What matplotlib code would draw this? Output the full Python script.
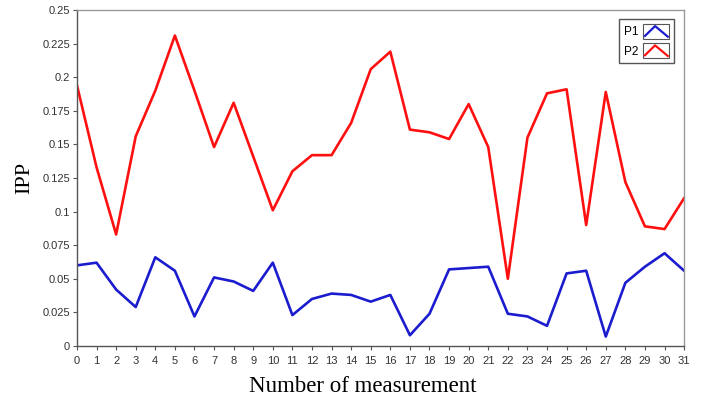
import matplotlib.pyplot as plt
import matplotlib.ticker as ticker
from matplotlib.legend_handler import HandlerBase
from matplotlib.patches import Rectangle
from matplotlib.lines import Line2D
import numpy as np

measurement = list(range(32))
p1 = [0.060, 0.062, 0.042, 0.029, 0.066, 0.056, 0.022, 0.051, 0.048, 0.041,
      0.062, 0.023, 0.035, 0.039, 0.038, 0.033, 0.038, 0.008, 0.024, 0.057,
      0.058, 0.059, 0.024, 0.022, 0.015, 0.054, 0.056, 0.007, 0.047, 0.059,
      0.069, 0.056]
p2 = [0.194, 0.133, 0.083, 0.156, 0.190, 0.231, 0.190, 0.148, 0.181, 0.141,
      0.101, 0.130, 0.142, 0.142, 0.166, 0.206, 0.219, 0.161, 0.159, 0.154,
      0.180, 0.148, 0.050, 0.155, 0.188, 0.191, 0.090, 0.189, 0.122, 0.089,
      0.087, 0.110]
yticks = [0, 0.025, 0.05, 0.075, 0.1, 0.125, 0.15, 0.175, 0.2, 0.225, 0.25]


class ChevronHandler(HandlerBase):
    # small framed box with a ^ shaped line, like the original legend
    def create_artists(self, legend, orig_handle, xdescent, ydescent,
                       width, height, fontsize, trans):
        x0, y0 = -xdescent, -ydescent
        box = Rectangle((x0, y0), width, height, fill=False, ec='#555555',
                        lw=0.8, transform=trans)
        line = Line2D([x0 + 0.06 * width, x0 + 0.45 * width, x0 + 0.94 * width],
                      [y0 + 0.2 * height, y0 + 0.85 * height, y0 + 0.15 * height],
                      color=orig_handle.get_color(), lw=1.6, transform=trans)
        return [box, line]


plt.rcParams['font.family'] = 'Liberation Sans'
fig = plt.figure(figsize=(7.06, 4), dpi=100)
ax = fig.add_axes([0.109, 0.135, 0.860, 0.840])

l1, = ax.plot(measurement, p1, color='#1c1ccf', lw=1.9, label='P1')
l2, = ax.plot(measurement, p2, color='#ff1010', lw=1.9, label='P2')

ax.set_xlim(0, 31)
ax.set_ylim(0, 0.25)
ax.set_xticks(measurement)
ax.set_yticks(yticks)
ax.yaxis.set_major_formatter(ticker.FormatStrFormatter('%g'))
ax.tick_params(labelsize=8, length=3, width=0.8, color='#555555',
               labelcolor='#333333')
ax.tick_params(axis='x', pad=4)
ax.tick_params(axis='y', pad=2)

for s in ['left', 'bottom']:
    ax.spines[s].set_color('#555555')
    ax.spines[s].set_linewidth(1.0)
for s in ['top', 'right']:
    ax.spines[s].set_color('#999999')
    ax.spines[s].set_linewidth(1.0)

ax.set_xlabel('Number of measurement', family='Liberation Serif', fontsize=16.5)
ax.xaxis.set_label_coords(0.47, -0.09)
ax.set_ylabel('IPP', family='Liberation Serif', fontsize=16, labelpad=6)

leg = ax.legend(handles=[l1, l2], handler_map={Line2D: ChevronHandler()},
                loc='upper right', bbox_to_anchor=(0.9835, 0.973),
                borderaxespad=0,
                markerfirst=False, fontsize=8.5, fancybox=False, framealpha=1,
                handlelength=2.2, handleheight=1.6, handletextpad=0.4,
                borderpad=0.4, labelspacing=0.35)
leg.get_frame().set_edgecolor('#555555')
leg.get_frame().set_linewidth(1.0)

fig.savefig('out.png', dpi=100)
